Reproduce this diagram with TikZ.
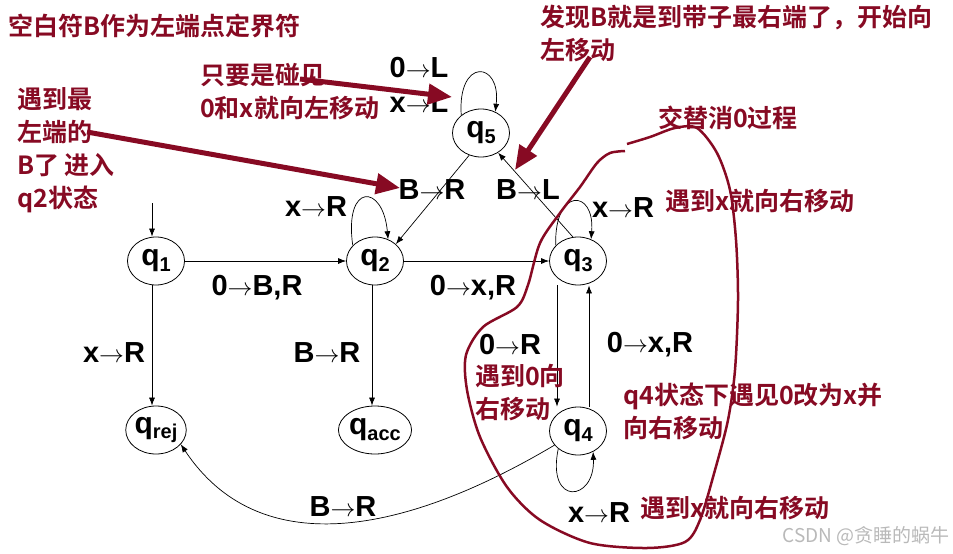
\documentclass[tikz,border=0pt]{standalone}
\usepackage{fontspec}
\usepackage{tikz}
\usetikzlibrary{shapes.geometric,arrows.meta}
\setmainfont{Liberation Sans}
\newfontfamily\cjk{Noto Sans CJK SC Bold}
\newfontfamily\cjkthin{Noto Sans CJK SC}
\definecolor{note}{RGB}{135,10,35}
\newcommand{\qs}[1]{q\raisebox{-0.35ex}{\fontsize{20}{20}\selectfont #1}}
\newcommand{\tr}{$\rightarrow$}

\begin{document}
\begin{tikzpicture}[x=1pt,y=-1pt,
  state/.style={ellipse,draw,line width=0.8pt,minimum width=57pt,minimum height=48pt,inner sep=0pt,font=\fontsize{30}{30}\selectfont\bfseries},
  lbl/.style={font=\fontsize{29}{29}\selectfont\bfseries,inner sep=0pt},
  cn/.style={text=note,font=\fontsize{25}{33}\selectfont\cjk,align=left,inner sep=0pt,anchor=west},
  wm/.style={text=gray!55,font=\fontsize{19}{19}\selectfont\cjkthin,inner sep=0pt,anchor=east},
  edge/.style={-{Latex[length=8pt,width=6pt]},line width=0.7pt},
  hint/.style={draw=note,line width=5pt,-{Triangle[length=24pt,width=20pt]}}]
  \useasboundingbox (0,0) rectangle (953,554);

  % States
  \node[state] (q1) at (156,261) {\qs{1}};
  \node[state] (q2) at (375,261) {\qs{2}};
  \node[state] (q3) at (578,261) {\qs{3}};
  \node[state] (q4) at (578,431) {\qs{4}};
  \node[state] (q5) at (481,133) {\qs{5}};
  \node[state] (qrej) at (156,430) {\qs{rej}};
  \node[state] (qacc) at (375,430) {\qs{acc}};
  \coordinate (start) at (152,203);

  % Transitions
  \draw[edge] (start) -- ([xshift=-4pt]q1.north);
  \draw[edge] (q1) -- (q2);
  \draw[edge] (q2) -- (q3);
  \draw[edge] ([xshift=-4pt]q1.south) -- ([xshift=-4pt]qrej.north);
  \draw[edge] ([xshift=-3pt]q2.south) -- ([xshift=-3pt]qacc.north);
  \draw[edge] ([xshift=-21pt]q3.south) -- ([xshift=-21pt]q4.north);
  \draw[edge] ([xshift=11pt]q4.north) -- ([xshift=11pt]q3.south);
  \draw[edge] (q5.242) -- (q2.39);
  \draw[edge] (q3.102) -- (q5.-49);
  \draw[edge] (q4.211) .. controls +(-155,92) and +(77,116) .. (qrej.330);

  % Loops
  \draw[edge] (q2.145) .. controls +(-9,-63) and +(-5,-56) .. (q2.59);
  \draw[edge] (q5.138) .. controls +(-4,-58) and +(6,-51) .. (q5.56);
  \draw[edge] (q3.145) .. controls +(-2,-58) and +(4,-51) .. (q3.59);
  \draw[edge] (q4.222) .. controls +(-12,58) and +(2,50) .. (q4.306);

  % Labels
  \node[lbl] (l50) at (419,68) {0\tr L};
  \node[lbl] (l5x) at (419,103) {x\tr L};
  \node[lbl] (l52) at (432,190) {B\tr R};
  \node[lbl] (l35) at (528,190) {B\tr L};
  \node[lbl] (l22) at (316,207) {x\tr R};
  \node[lbl] (l33) at (623,208) {x\tr R};
  \node[lbl] (l12) at (257,288) {0\tr B,R};
  \node[lbl] (l23) at (473,288) {0\tr x,R};
  \node[lbl] (l1r) at (114,353) {x\tr R};
  \node[lbl] (l2a) at (327,353) {B\tr R};
  \node[lbl] (l34) at (510,345) {0\tr R};
  \node[lbl] (l43) at (650,345) {0\tr x,R};
  \node[lbl] (l4r) at (343,507) {B\tr R};
  \node[lbl] (l44) at (599,513) {x\tr R};

  % Loop of the x/0 phase
  \draw[note,line width=2.5pt] plot[smooth] coordinates {(627,144) (650,137) (675,128) (697,128) (717,153) (730,190) (736,240) (738,300) (735,370) (728,420) (715,470) (700,520) (685,542) (647,548) (590,543) (540,520) (507,487) (480,437) (467,390) (466,355) (483,327) (517,307) (528,285) (540,243) (560,213) (580,187) (597,163) (610,153) (625,151)};

  % Notes
  \node[cn] (n1) at (8,26) {空白符B作为左端点定界符};
  \node[cn] (n2) at (200,92) {只要是碰见\\0和x就向左移动};
  \node[cn] (n3) at (17,150) {遇到最\\左端的\\B了 进入\\q2状态};
  \node[cn] (n4) at (540,33) {发现B就是到带子最右端了，开始向\\左移动};
  \node[cn] (n5) at (658,118) {交替消0过程};
  \node[cn] (n6) at (665,201) {遇到x就向右移动};
  \node[cn] (n7) at (475,393) {遇到0向\\右移动};
  \node[cn] (n8) at (623,411) {q4状态下遇见0改为x并\\向右移动};
  \node[cn] (n9) at (640,508) {遇到x就向右移动};
  \node[wm] (wm) at (950,536) {CSDN @贪睡的蜗牛};

  % Pointers
  \coordinate (h1) at (300,79);
  \coordinate (h1t) at (452,97);
  \coordinate (h2) at (87,132);
  \coordinate (h2t) at (400,188);
  \coordinate (h3) at (590,57);
  \coordinate (h3t) at (515,170);
  \draw[hint] (h1) -- (h1t);
  \draw[hint] (h2) -- (h2t);
  \draw[hint] (h3) -- (h3t);
\end{tikzpicture}
\end{document}
